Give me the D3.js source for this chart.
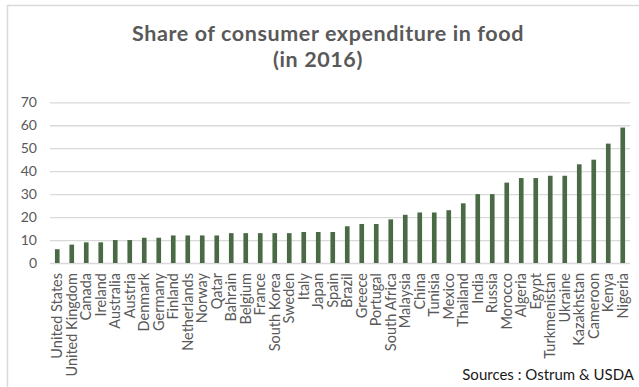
<!DOCTYPE html>
<html>
<head>
<meta charset="utf-8">
<script src="https://cdn.jsdelivr.net/npm/d3@7"></script>
<style>
  html, body { margin: 0; padding: 0; background: #fff; }
  svg { display: block; }
  text { font-family: Lato, "Open Sans", sans-serif; }
</style>
</head>
<body>
<svg id="chart" width="639" height="387"></svg>
<script>
// Share of household spending that goes to food, by country (2016)
const countries = [
  "United States", "United Kingdom", "Canada", "Ireland", "Australia", "Austria",
  "Denmark", "Germany", "Finland", "Netherlands", "Norway", "Qatar", "Bahrain",
  "Belgium", "France", "South Korea", "Sweden", "Italy", "Japan", "Spain", "Brazil",
  "Greece", "Portugal", "South Africa", "Malaysia", "China", "Tunisia", "Mexico",
  "Thailand", "India", "Russia", "Morocco", "Algeria", "Egypt", "Turkmenistan",
  "Ukraine", "Kazakhstan", "Cameroon", "Kenya", "Nigeria"
];
const foodShare = [
  6, 8, 9, 9, 10, 10,
  11, 11, 12, 12, 12, 12, 13,
  13, 13, 13, 13, 13.5, 13.5, 13.5, 16,
  17, 17, 19, 21, 22, 22, 23,
  26, 30, 30, 35, 37, 37, 38,
  38, 43, 45, 52, 59
];
const yTicks = [0, 10, 20, 30, 40, 50, 60, 70];
const titleLines = ["Share of consumer expenditure in food", "(in 2016)"];
const sourceNote = "Sources : Ostrum & USDA";

const svg = d3.select("#chart");

// chart frame
svg.append("rect")
  .attr("x", 7.5).attr("y", 5.5)
  .attr("width", 640).attr("height", 390)
  .attr("fill", "none")
  .attr("stroke", "#d9d9d9")
  .attr("stroke-width", 1.5);

const plot = { left: 50, right: 630, top: 102.3, bottom: 263 };

const x = d3.scaleBand()
  .domain(countries)
  .range([plot.left, plot.right])
  .paddingInner(0.68)
  .paddingOuter(0.34);

const y = d3.scaleLinear()
  .domain([0, 70])
  .range([plot.bottom, plot.top]);

// horizontal gridlines + value labels
const yAxis = d3.axisLeft(y)
  .tickValues(yTicks)
  .tickSize(-(plot.right - plot.left))
  .tickPadding(13);

const gy = svg.append("g")
  .attr("transform", `translate(${plot.left},0)`)
  .call(yAxis);
gy.select(".domain").remove();
gy.selectAll(".tick line")
  .attr("stroke", "#d9d9d9")
  .attr("stroke-width", 1.3);
gy.selectAll(".tick text")
  .attr("fill", "#595959")
  .style("font-size", "14px")
  .style("font-family", "Lato, sans-serif");

// bars
svg.append("g")
  .selectAll("rect")
  .data(countries.map((c, i) => ({ c, v: foodShare[i] })))
  .join("rect")
  .attr("x", d => x(d.c))
  .attr("width", x.bandwidth())
  .attr("y", d => y(d.v))
  .attr("height", d => y(0) - y(d.v))
  .attr("fill", "#4a6a45");

// rotated country names
const xAxis = d3.axisBottom(x).tickSize(0).tickPadding(0);
const gx = svg.append("g")
  .attr("transform", `translate(0,${plot.bottom})`)
  .call(xAxis);
gx.select(".domain").remove();
gx.selectAll(".tick text")
  .attr("transform", "translate(0,10) rotate(-90)")
  .attr("text-anchor", "end")
  .attr("x", 0)
  .attr("y", 0)
  .attr("dy", "0.35em")
  .attr("fill", "#595959")
  .style("font-size", "14.5px")
  .style("font-family", "Lato, sans-serif");

// title
const titleStyle = sel => sel
  .attr("text-anchor", "middle")
  .attr("fill", "#595959")
  .style("font-size", "21.5px")
  .style("letter-spacing", "0.6px")
  .style("font-weight", "bold");
svg.append("text")
  .attr("x", 328).attr("y", 41)
  .call(titleStyle)
  .text(titleLines[0]);
svg.append("text")
  .attr("x", 318).attr("y", 67)
  .call(titleStyle)
  .text(titleLines[1]);

// source note
svg.append("text")
  .attr("x", 634).attr("y", 380)
  .attr("text-anchor", "end")
  .attr("fill", "#1a1a1a")
  .style("font-size", "15px")
  .text(sourceNote);
</script>
</body>
</html>
